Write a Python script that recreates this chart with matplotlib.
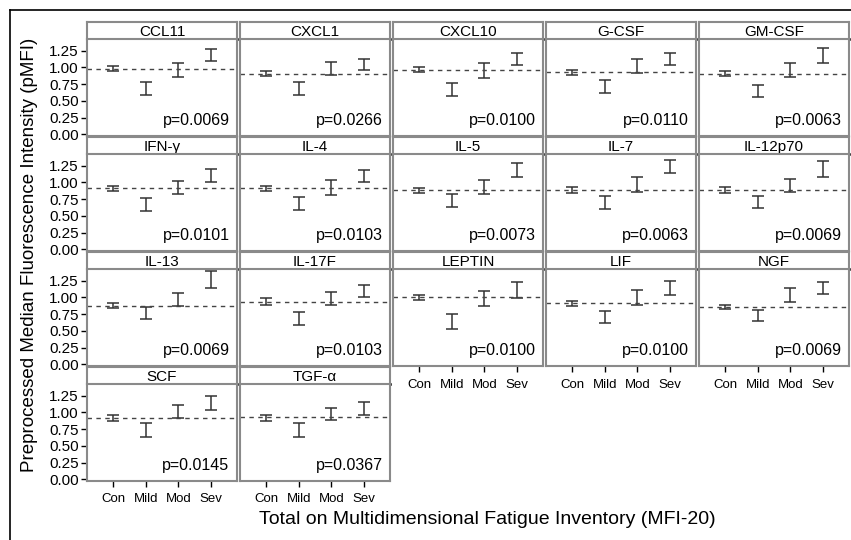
import numpy as np
import matplotlib.pyplot as plt
from matplotlib.lines import Line2D

plt.rcParams['font.family'] = ['Liberation Sans', 'DejaVu Sans']

# panel names in reading order, with the trend p-values
cytokines = ['CCL11', 'CXCL1', 'CXCL10', 'G-CSF', 'GM-CSF',
             'IFN-γ', 'IL-4', 'IL-5', 'IL-7', 'IL-12p70',
             'IL-13', 'IL-17F', 'LEPTIN', 'LIF', 'NGF',
             'SCF', 'TGF-α']
p_values = ['0.0069', '0.0266', '0.0100', '0.0110', '0.0063',
            '0.0101', '0.0103', '0.0073', '0.0063', '0.0069',
            '0.0069', '0.0103', '0.0100', '0.0100', '0.0069',
            '0.0145', '0.0367']
groups = ['Con', 'Mild', 'Mod', 'Sev']

# error bar limits (lower, upper) for Con, Mild, Mod, Sev
lower = [
    [0.94, 0.59, 0.85, 1.09],
    [0.865, 0.59, 0.89, 0.955],
    [0.93, 0.58, 0.84, 1.03],
    [0.88, 0.615, 0.915, 1.03],
    [0.865, 0.555, 0.855, 1.065],
    [0.865, 0.575, 0.825, 1.00],
    [0.865, 0.59, 0.815, 1.00],
    [0.845, 0.635, 0.825, 1.075],
    [0.845, 0.60, 0.85, 1.135],
    [0.845, 0.625, 0.85, 1.075],
    [0.835, 0.675, 0.865, 1.135],
    [0.89, 0.585, 0.885, 1.00],
    [0.965, 0.525, 0.865, 0.99],
    [0.87, 0.615, 0.89, 1.04],
    [0.82, 0.65, 0.935, 1.05],
    [0.875, 0.635, 0.91, 1.04],
    [0.875, 0.635, 0.89, 0.965],
]
upper = [
    [1.015, 0.775, 1.065, 1.28],
    [0.94, 0.775, 1.075, 1.13],
    [1.00, 0.765, 1.065, 1.215],
    [0.965, 0.805, 1.13, 1.215],
    [0.94, 0.74, 1.065, 1.29],
    [0.95, 0.76, 1.025, 1.20],
    [0.95, 0.785, 1.035, 1.185],
    [0.915, 0.825, 1.035, 1.285],
    [0.935, 0.79, 1.075, 1.335],
    [0.925, 0.79, 1.05, 1.325],
    [0.915, 0.85, 1.06, 1.40],
    [0.985, 0.775, 1.075, 1.19],
    [1.035, 0.75, 1.09, 1.235],
    [0.95, 0.80, 1.11, 1.24],
    [0.89, 0.81, 1.135, 1.225],
    [0.96, 0.84, 1.11, 1.25],
    [0.965, 0.84, 1.065, 1.16],
]
# dashed reference line (control level)
ref_level = [0.975, 0.905, 0.965, 0.925, 0.905,
             0.91, 0.91, 0.885, 0.89, 0.885,
             0.875, 0.935, 1.00, 0.91, 0.86,
             0.915, 0.925]
yticks = [0.0, 0.25, 0.5, 0.75, 1.0, 1.25]

W, H = 851, 540
fig = plt.figure(figsize=(W / 100, H / 100), dpi=100)

def px_axes(left, top, w, h):
    return fig.add_axes([left / W, 1 - (top + h) / H, w / W, h / H])

# outer frame (runs off the right and bottom edges)
fig.add_artist(Line2D([10 / W, 1.0], [1 - 9.5 / H, 1 - 9.5 / H], color='black', lw=1.2,
                      transform=fig.transFigure))
fig.add_artist(Line2D([10 / W, 10 / W], [1 - 9.5 / H, 0.0], color='black', lw=1.2,
                      transform=fig.transFigure))

col_left = [87, 240, 393, 546, 699]
row_top = [22, 137, 252, 367]
pw, strip_h, plot_h = 150, 17, 97
gray = '#8a8a8a'
x = np.arange(1, 5)
n = len(cytokines)

for i, name in enumerate(cytokines):
    r, c = divmod(i, 5)
    left, top = col_left[c], row_top[r]

    # strip with the panel title
    sax = px_axes(left, top, pw, strip_h)
    sax.set_xticks([])
    sax.set_yticks([])
    for s in sax.spines.values():
        s.set_color(gray)
        s.set_linewidth(1.5)
    sax.spines['bottom'].set_color('black')
    sax.spines['bottom'].set_linewidth(1.8)
    sax.text(0.5, 0.42, name, ha='center', va='center', fontsize=11, transform=sax.transAxes)

    ax = px_axes(left, top + strip_h, pw, plot_h)
    lo = np.array(lower[i])
    hi = np.array(upper[i])
    mid = (lo + hi) / 2
    ax.errorbar(x, mid, yerr=[mid - lo, hi - mid], fmt='none', ecolor='#333333',
                elinewidth=1.1, capsize=4, capthick=1.1)
    ax.axhline(ref_level[i], color='#444444', lw=1, dashes=(3.2, 3.2))
    ax.text(0.95, 0.08, 'p=' + p_values[i], ha='right', va='bottom', fontsize=11.5,
            transform=ax.transAxes)
    ax.set_xlim(0.2, 4.8)
    ax.set_ylim(-0.025, 1.425)
    for s in ax.spines.values():
        s.set_color(gray)
        s.set_linewidth(1.5)

    if c == 0:
        ax.set_yticks(yticks)
        ax.set_yticklabels(['%.2f' % v for v in yticks], fontsize=11)
        ax.tick_params(axis='y', length=4, width=1, pad=2)
    else:
        ax.set_yticks([])

    bottom_panel = (i + 5 >= n)
    if bottom_panel:
        ax.set_xticks(x)
        ax.set_xticklabels(groups, fontsize=9.5)
        ax.tick_params(axis='x', length=4, width=1, pad=5)
    else:
        ax.set_xticks([])

fig.text(30 / W, 1 - 255 / H, 'Preprocessed Median Fluorescence Intensity (pMFI)',
         rotation=90, ha='center', va='center', fontsize=13.5)
fig.text(487 / W, 1 - 519 / H, 'Total on Multidimensional Fatigue Inventory (MFI-20)',
         ha='center', va='center', fontsize=14)

fig.savefig('out.png', dpi=100)
